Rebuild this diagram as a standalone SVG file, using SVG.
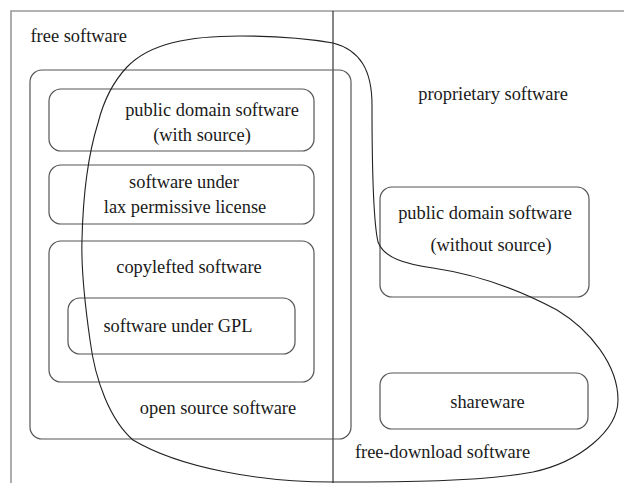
<svg xmlns="http://www.w3.org/2000/svg" width="624" height="483" viewBox="0 0 624 483">
  <style>
    .box { fill: none; stroke: #555; stroke-width: 1.2; }
    .frame { fill: none; stroke: #999; stroke-width: 1.6; }
    .divider { fill: none; stroke: #222; stroke-width: 1.1; }
    .blob { fill: none; stroke: #222; stroke-width: 1.1; }
    text { font-family: "Liberation Serif", "Times New Roman", serif; font-size: 18.4px; fill: #1a1a1a; }
    .c { text-anchor: middle; }
  </style>
  <rect width="624" height="483" fill="#fff"/>

  <!-- outer frame and the free / proprietary split -->
  <g id="frame">
    <path class="frame" d="M11,483 V11 H624"/>
    <path class="divider" d="M333,11 V483"/>
  </g>

  <g id="free-software">
    <text x="30.5" y="42">free software</text>
  </g>

  <g id="proprietary-software">
    <text class="c" x="493" y="100">proprietary software</text>
  </g>

  <g id="open-source-software">
    <rect class="box" x="30" y="70" width="321" height="369" rx="12"/>
    <text class="c" x="218" y="414">open source software</text>
  </g>

  <g id="public-domain-with-source">
    <rect class="box" x="49" y="89" width="265" height="62" rx="12"/>
    <text class="c" x="212" y="116">public domain software</text>
    <text class="c" x="202" y="141">(with source)</text>
  </g>

  <g id="lax-permissive">
    <rect class="box" x="49" y="165" width="265" height="59" rx="12"/>
    <text class="c" x="184" y="188">software under</text>
    <text class="c" x="185" y="213">lax permissive license</text>
  </g>

  <g id="copylefted-software">
    <rect class="box" x="49" y="241" width="265" height="141" rx="12"/>
    <text class="c" x="189" y="273">copylefted software</text>
  </g>

  <g id="gpl-software">
    <rect class="box" x="68" y="298" width="227" height="56" rx="12"/>
    <text class="c" x="178" y="332">software under GPL</text>
  </g>

  <g id="public-domain-without-source">
    <rect class="box" x="380" y="187" width="209" height="110" rx="12"/>
    <text class="c" x="485" y="219">public domain software</text>
    <text class="c" x="491" y="251">(without source)</text>
  </g>

  <g id="shareware">
    <rect class="box" x="380" y="373" width="208" height="56" rx="12"/>
    <text class="c" x="487.5" y="408">shareware</text>
  </g>

  <!-- free-download region: closed freehand outline -->
  <g id="connectors">
    <path class="blob" d="M240,36
      C275,36 310,39 333,43
      C360,50 372,70 372,105
      C372,170 373,220 378,242
      C384,258 405,264 433,268
      C480,275 520,290 557,310
      C590,330 618,365 618,400
      C618,430 580,462 533,472
      C480,482 400,482 333,482
      C260,482 180,468 133,440
      C110,420 95,380 90,340
      C85,305 81,270 82,240
      C83,195 88,155 98,123
      C103,103 112,83 127,67
      C150,43 190,36 240,36 Z"/>
  </g>
  <g id="free-download-software">
    <text class="c" x="442.5" y="458">free-download software</text>
  </g>
</svg>
